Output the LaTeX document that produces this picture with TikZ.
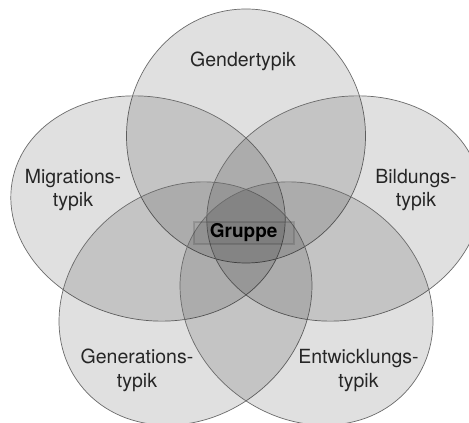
\documentclass[tikz,border=0pt]{standalone}
\usepackage{fontspec}
\setmainfont{TeX Gyre Heros}
\usetikzlibrary{shapes.geometric}
\tikzset{
  setel/.style={ellipse, draw=black!58, line width=0.7pt, fill=black, fill opacity=0.12, draw opacity=1, inner sep=0pt},
  lbl/.style={text=black!85, font=\fontsize{19.5}{23.5}\selectfont, align=center, inner sep=0pt},
  grp/.style={draw=black, draw opacity=0.13, line width=2pt, fill=black, fill opacity=0.04, text opacity=1, text=black, font=\fontsize{19}{22}\selectfont\bfseries, inner sep=0pt, minimum width=100pt, minimum height=22pt}
}
\begin{document}
\begin{tikzpicture}[x=1pt,y=1pt]
\useasboundingbox (0,0) rectangle (469,423);
\clip (0,0) rectangle (469,423);
\fill[white] (0,0) rectangle (469,423);
\node[setel, minimum width=239pt, minimum height=254pt] (gender) at (246,287) {};
\node[setel, minimum width=277pt, minimum height=222pt, rotate=-13.3] (migr) at (148,214.5) {};
\node[setel, minimum width=277pt, minimum height=222pt, rotate=13.3] (bild) at (344,214.5) {};
\node[setel, minimum width=266pt, minimum height=229pt, rotate=37.4] (gen) at (185.5,119.5) {};
\node[setel, minimum width=266pt, minimum height=229pt, rotate=-37.4] (entw) at (306.5,119.5) {};
\node[lbl, anchor=base] (tgender) at (243,356.3) {Gendertypik};
\node[lbl] (tmigr) at (73,233) {Migrations-\\typik};
\node[lbl] (tbild) at (416,233) {Bildungs-\\typik};
\node[lbl] (tgen) at (137,52.5) {Generations-\\typik};
\node[lbl] (tentw) at (358.5,52.5) {Entwicklungs-\\typik};
\node[grp] (gruppe) at (243.7,190) {Gruppe};
\end{tikzpicture}
\end{document}
